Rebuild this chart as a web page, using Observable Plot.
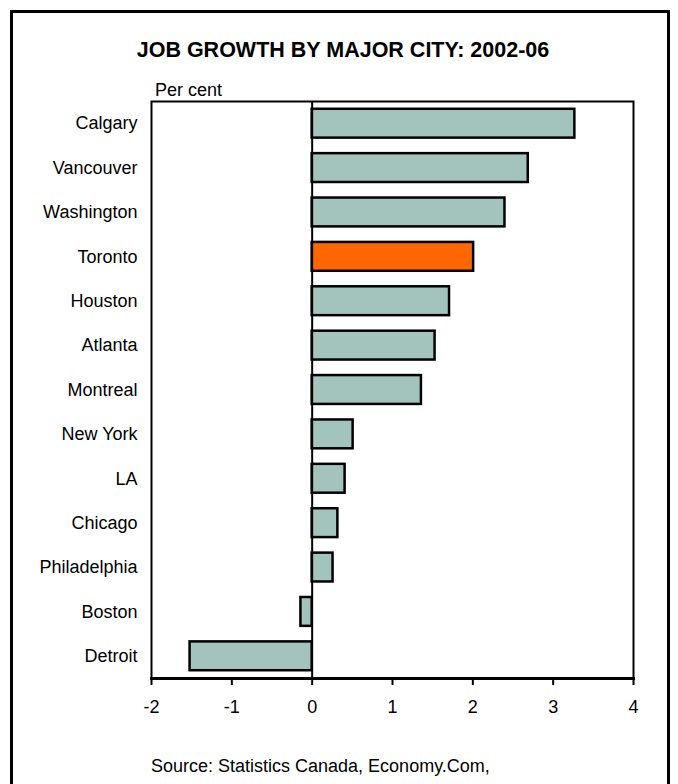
<!DOCTYPE html>
<html>
<head>
<meta charset="utf-8">
<script src="https://cdn.jsdelivr.net/npm/d3@7"></script>
<script src="https://cdn.jsdelivr.net/npm/@observablehq/plot@0.6"></script>
<style>
  html, body { margin: 0; padding: 0; background: #fff; }
  body { width: 678px; height: 784px; position: relative; overflow: hidden;
         font-family: "Liberation Sans", Arial, sans-serif; color: #000; }
  #border { position: absolute; left: 10px; top: 10px; width: 654px; height: 820px;
            border: 3px solid #000; }
  #chart { position: absolute; left: 0; top: 80px; }
  .txt { position: absolute; line-height: 1; white-space: nowrap; }
  #title { left: 0; width: 686px; text-align: center; top: 40px; font-size: 21.5px; font-weight: bold; }
  #ylabel { left: 155px; top: 81px; font-size: 18px; }
  #caption { left: 151px; top: 757px; font-size: 18px; }
</style>
</head>
<body>
<div id="border"></div>
<div id="chart"></div>
<div class="txt" id="title">JOB GROWTH BY MAJOR CITY: 2002-06</div>
<div class="txt" id="ylabel">Per cent</div>
<div class="txt" id="caption">Source: Statistics Canada, Economy.Com,</div>
<script>
const cities = ["Calgary", "Vancouver", "Washington", "Toronto", "Houston", "Atlanta", "Montreal",
                "New York", "LA", "Chicago", "Philadelphia", "Boston", "Detroit"];
const growth = [3.27, 2.69, 2.40, 2.01, 1.71, 1.53, 1.36, 0.51, 0.41, 0.32, 0.26, -0.14, -1.52];
const highlight = "Toronto";
const xTicks = [-2, -1, 0, 1, 2, 3, 4];

const data = cities.map((city, i) => ({city, value: growth[i]}));

const plot = Plot.plot({
  width: 678,
  height: 650,
  marginLeft: 151,
  marginRight: 45,
  marginTop: 21,
  marginBottom: 52,
  style: {fontFamily: "'Liberation Sans', Arial, sans-serif", fontSize: "18px", background: "transparent", color: "#000", overflow: "visible"},
  x: {domain: [-2, 4]},
  y: {domain: cities, paddingInner: 0.35, paddingOuter: 0.175, round: false},
  color: {type: "identity"},
  marks: [
    Plot.barX(data, {
      x: "value", y: "city",
      fill: d => d.city === highlight ? "#ff6600" : "#a2c4bd",
      stroke: "#000", strokeWidth: 2.5
    }),
    Plot.ruleX([0], {stroke: "#000", strokeWidth: 2}),
    Plot.frame({stroke: "#000", strokeWidth: 2}),
    Plot.frame({anchor: "bottom", stroke: "#000", strokeWidth: 3}),
    Plot.axisX({ticks: xTicks, tickFormat: d => String(d), tickSize: 7, tickPadding: 15,
                strokeWidth: 2, fill: "#000", stroke: "#000", label: null, fontSize: 18}),
    Plot.axisY({tickSize: 0, tickPadding: 14, label: null, fill: "#000", fontSize: 18})
  ]
});
document.getElementById("chart").appendChild(plot);
</script>
</body>
</html>
